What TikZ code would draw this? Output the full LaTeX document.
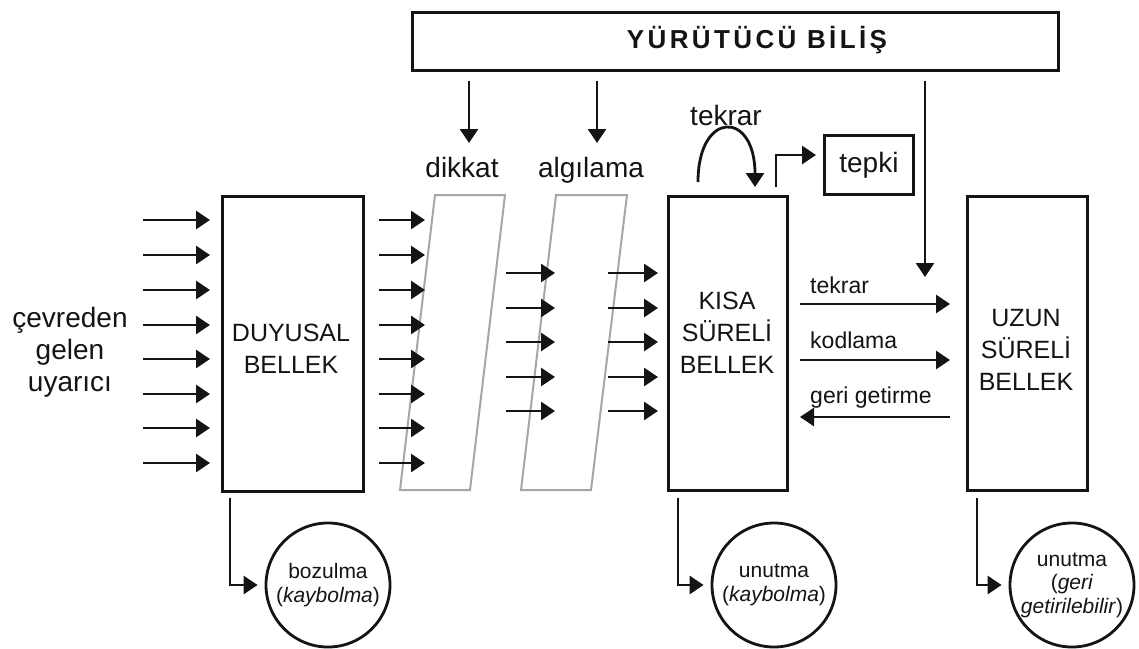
\documentclass[tikz,border=0pt]{standalone}
\usepackage{fontspec}
\setmainfont{Liberation Sans}
\newfontfamily\titlefont[LetterSpace=13]{Liberation Sans}
\usetikzlibrary{arrows.meta}
\begin{document}
\begin{tikzpicture}[x=1pt,y=-1pt,
  arr/.style={line width=2.8pt, draw=black!92, -{Triangle[length=14pt,width=18pt]}},
  box/.style={draw=black!92, line width=2.8pt, anchor=north west, inner sep=0pt},
  gbox/.style={draw=black!35, line width=2pt},
  lbl/.style={text=black!92, font=\fontsize{28}{32}\selectfont, inner sep=0pt},
  small/.style={text=black!92, font=\fontsize{23}{26}\selectfont, inner sep=0pt},
  btxt/.style={text=black!92, font=\fontsize{25}{32}\selectfont, align=center, inner sep=0pt},
  circ/.style={circle, draw=black!92, line width=2.8pt, minimum size=124pt, inner sep=0pt, align=center, text=black!92, font=\fontsize{21}{23.5}\selectfont},
]
\useasboundingbox (0,0) rectangle (1139,648);
\fill[white] (0,0) rectangle (1139,648);

% executive box
\node[box, minimum width=646pt, minimum height=58pt] (top) at (411,11) {};
\node[anchor=base, text=black!92, inner sep=0pt, font=\titlefont\bfseries\fontsize{26}{30}\selectfont] (title) at (757,48) {YÜRÜTÜCÜ BİLİŞ};

% memory boxes
\node[box, minimum width=141pt, minimum height=295pt] (duy) at (221,195) {};
\node[btxt] (duyT) at (291,349) {DUYUSAL\\BELLEK};
\node[box, minimum width=119pt, minimum height=294pt] (kisa) at (667,195) {};
\node[btxt] (kisaT) at (727,333) {KISA\\SÜRELİ\\BELLEK};
\node[box, minimum width=120pt, minimum height=294pt] (uzun) at (966,195) {};
\node[btxt] (uzunT) at (1026,350) {UZUN\\SÜRELİ\\BELLEK};
\node[box, minimum width=89pt, minimum height=59pt, text=black!92, font=\fontsize{28}{32}\selectfont] (tepki) at (823,134) {tepki};

% filters
\draw[gbox] (435,195) -- (505,195) -- (470,490) -- (400,490) -- cycle;
\draw[gbox] (556,195) -- (627,195) -- (591,490) -- (521,490) -- cycle;

% labels
\node[lbl, align=center] (cev) at (70,352) {çevreden\\gelen\\uyarıcı};
\node[lbl, anchor=base] (dik) at (462,177) {dikkat};
\node[lbl, anchor=base] (alg) at (591,177) {algılama};
\node[lbl, anchor=base] (tek) at (726,125) {tekrar};
\node[small, anchor=base west] (l1) at (810,293) {tekrar};
\node[small, anchor=base west] (l2) at (810,348) {kodlama};
\node[small, anchor=base west] (l3) at (810,403) {geri getirme};

% input arrows
\foreach \y [count=\i] in {220,255,290,325,359,394,428,463} {
  \coordinate (in\i) at (143,\y);
  \coordinate (out\i) at (425,\y);
  \draw[arr, shorten >=11pt] (in\i) -- (in\i -| duy.west);
  \draw[arr, shorten <=14pt] (out\i -| duy.east) -- (out\i);
}
\foreach \y [count=\i] in {273,308,342,377,411} {
  \coordinate (m\i) at (506,\y);
  \coordinate (n\i) at (555,\y);
  \coordinate (p\i) at (608,\y);
  \draw[arr] (m\i) -- (n\i);
  \draw[arr, shorten >=9pt] (p\i) -- (p\i -| kisa.west);
}

% from executive
\coordinate (t1) at (469,143);
\coordinate (t2) at (597,143);
\coordinate (t3) at (925,277);
\draw[arr, shorten <=9pt] (t1 |- top.south) -- (t1);
\draw[arr, shorten <=9pt] (t2 |- top.south) -- (t2);
\draw[arr, shorten <=9pt] (t3 |- top.south) -- (t3);

% rehearsal loop
\coordinate (lp1) at (698,182);
\coordinate (lp2) at (755,187);
\draw[arr] (lp1) .. controls (698,110) and (755,110) .. (lp2);

% response
\coordinate (tp1) at (776,187);
\coordinate (tp2) at (776,155);
\draw[arr, shorten >=7pt] (tp1) -- (tp2) -- (tp2 -| tepki.west);

% between STM and LTM
\coordinate (k1) at (800,304);
\coordinate (k2) at (800,360);
\coordinate (k3) at (800,417);
\draw[arr, shorten >=16pt] (k1) -- (k1 -| uzun.west);
\draw[arr, shorten >=16pt] (k2) -- (k2 -| uzun.west);
\draw[arr, shorten <=16pt] (k3 -| uzun.west) -- (k3);

% loss circles
\node[circ] (boz) at (328,585) {bozulma\\(\textit{kaybolma})};
\node[circ] (un1) at (774,585) {unutma\\(\textit{kaybolma})};
\node[circ] (un2) at (1072,585) {unutma\\(\textit{geri}\\\textit{getirilebilir})};

\coordinate (b1) at (230,498);
\coordinate (b2) at (678,498);
\coordinate (b3) at (977,498);
\draw[arr, shorten >=7pt] (b1) |- (boz.west);
\draw[arr, shorten >=7pt] (b2) |- (un1.west);
\draw[arr, shorten >=7pt] (b3) |- (un2.west);
\end{tikzpicture}
\end{document}
